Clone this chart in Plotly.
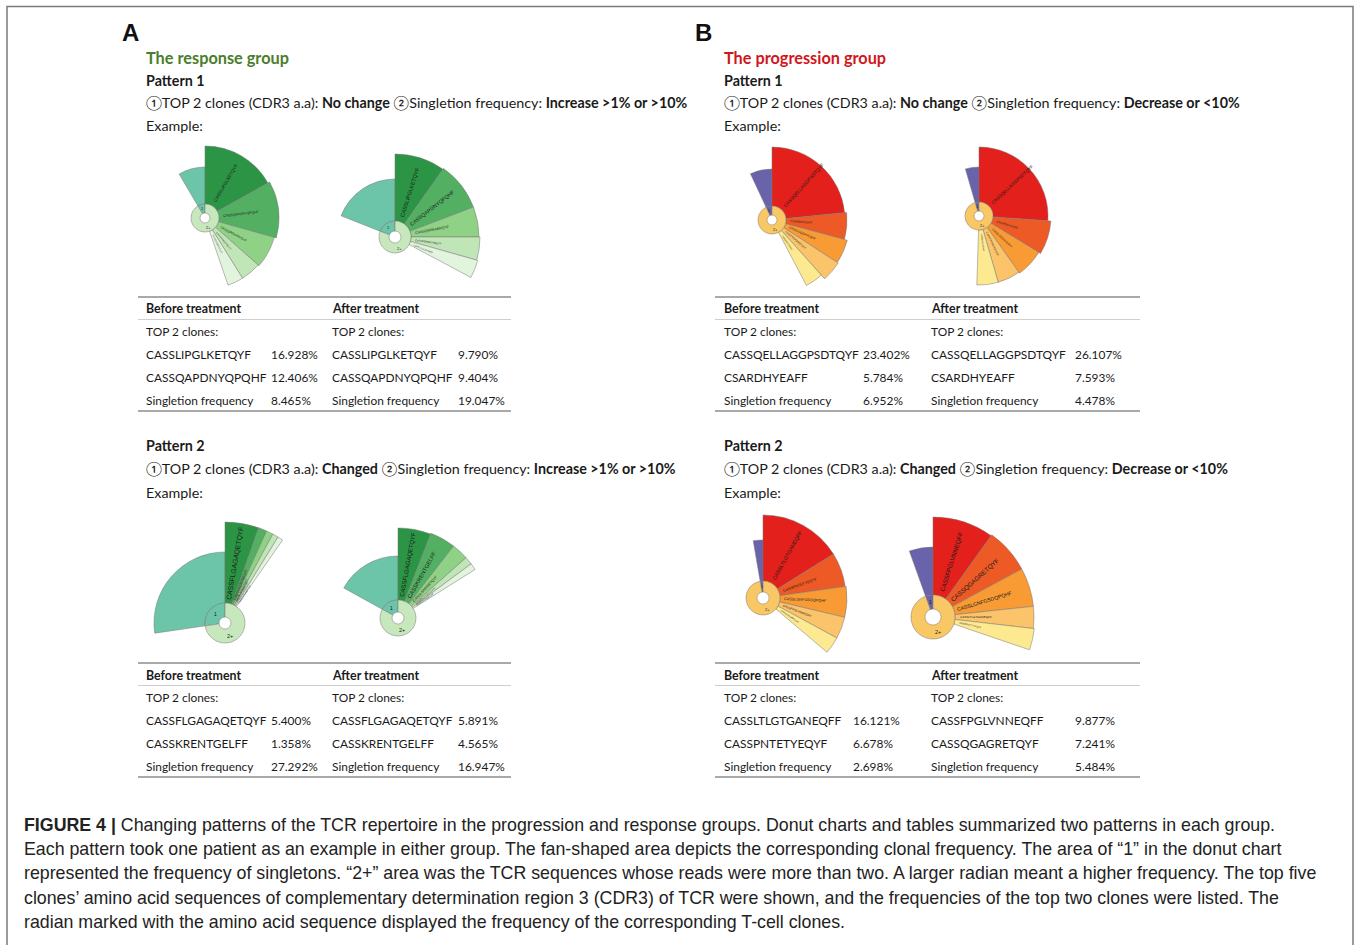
import numpy as np
import plotly.graph_objects as go

W, H = 1356, 945

# ---------------- data ----------------
# singleton frequency (%) for each example (before / after treatment)
singleton_freq = [8.465, 19.047, 6.952, 4.478, 27.292, 16.947, 2.698, 5.484]

# top five clones per example (%), top two as listed in the tables
clone_freq = [
    [16.928, 12.406, 7.2, 4.6, 3.6],
    [9.790, 9.404, 5.8, 4.4, 3.4],
    [23.402, 5.784, 5.0, 4.2, 3.9],
    [26.107, 7.593, 6.5, 5.3, 5.0],
    [5.400, 1.358, 1.1, 0.95, 0.85],
    [5.891, 4.565, 3.0, 1.4, 1.2],
    [16.121, 6.678, 5.9, 4.2, 3.3],
    [9.877, 7.241, 6.2, 3.5, 3.4],
]

clone_names = [
    ["CASSLIPGLKETQYF", "CASSQAPDNYQPQHF", "CASSQRGKANVQYF", "CASSPGRGDTGELFF", "CASSLGQGNTEAFF"],
    ["CASSLIPGLKETQYF", "CASSQAPDNYQPQHF", "CASSQRGKANVQYF", "CASSPGRGDTGELFF", "CASSLGQGNTEAFF"],
    ["CASSQELLAGGPSDTQYF", "CSARDHYEAFF", "CASSLGQGAYEQYF", "CASSPRDRGNQPQHF", "CASSLEGTEAFF"],
    ["CASSQELLAGGPSDTQYF", "CSARDHYEAFF", "CASSLGQGAYEQYF", "CASSPRDRGNQPQHF", "CASSLEGTEAFF"],
    ["CASSFLGAGAQETQYF", "CASSKRENTGELFF", "CASSLSRGGETQYF", "CASSPGTGNYGYTF", "CASSQDRGNSPLHF"],
    ["CASSFLGAGAQETQYF", "CASSKRENTGELFF", "CASSLSRGGETQYF", "CASSPGTGNYGYTF", "CASSQDRGNSPLHF"],
    ["CASSLTLGTGANEQFF", "CASSPNTETYEQYF", "CASSLGNFGSDQPQHF", "CASSFPGLVNNEQFF", "CASSQGAGRETQYF"],
    ["CASSFPGLVNNEQFF", "CASSQGAGRETQYF", "CASSLGNFGSDQPQHF", "CASSLTLGTGANEQFF", "CASSPNTETYEQYF"],
]

# radial extent of each sector
hole_radius = [5, 6, 5, 5, 6, 6, 6, 8]
ring_radius = [14, 16, 14, 14, 20, 18, 17, 22]
singleton_radius = [51, 58, 51, 49, 71, 62, 58, 70]
clone_radius = [
    [72, 74, 72, 71, 71],
    [83, 84, 84, 85, 86],
    [73, 75, 78, 79, 74],
    [69, 72, 70, 69, 69],
    [101, 101, 101, 101, 101],
    [90, 91, 91, 91, 91],
    [83, 83, 84, 84, 84],
    [100, 101, 101, 101, 102],
]

# table contents
table_rows = [
    dict(before=[("CASSLIPGLKETQYF", "16.928%"), ("CASSQAPDNYQPQHF", "12.406%"), ("Singletion frequency", "8.465%")],
         after=[("CASSLIPGLKETQYF", "9.790%"), ("CASSQAPDNYQPQHF", "9.404%"), ("Singletion frequency", "19.047%")]),
    dict(before=[("CASSQELLAGGPSDTQYF", "23.402%"), ("CSARDHYEAFF", "5.784%"), ("Singletion frequency", "6.952%")],
         after=[("CASSQELLAGGPSDTQYF", "26.107%"), ("CSARDHYEAFF", "7.593%"), ("Singletion frequency", "4.478%")]),
    dict(before=[("CASSFLGAGAQETQYF", "5.400%"), ("CASSKRENTGELFF", "1.358%"), ("Singletion frequency", "27.292%")],
         after=[("CASSFLGAGAQETQYF", "5.891%"), ("CASSKRENTGELFF", "4.565%"), ("Singletion frequency", "16.947%")]),
    dict(before=[("CASSLTLGTGANEQFF", "16.121%"), ("CASSPNTETYEQYF", "6.678%"), ("Singletion frequency", "2.698%")],
         after=[("CASSFPGLVNNEQFF", "9.877%"), ("CASSQGAGRETQYF", "7.241%"), ("Singletion frequency", "5.484%")]),
]

# ---------------- styling ----------------
GREEN = dict(clones=["#2b9545", "#53b062", "#8fd185", "#c0e5b6", "#e3f4de"],
             single="#6cc4a9", ring2="#c6e8bc")
RED = dict(clones=["#e3201b", "#ee5a26", "#f89b35", "#fcc46a", "#fde98f"],
           single="#6863ab", ring2="#f9c864")
palettes = [GREEN, GREEN, RED, RED, GREEN, GREEN, RED, RED]

# fan centres in pixels
centers = [(205, 218), (395, 237), (772, 220), (979, 216),
           (225, 623), (398, 618), (763, 598), (933, 617)]
label_sizes = [
    [4.5, 3.4, 3.0, 2.2, 2.2],
    [5.4, 5.2, 3.5, 2.6, 2.2],
    [4.7, 3.0, 3.0, 2.5, 2.2],
    [4.5, 3.0, 2.8, 2.5, 2.2],
    [6.8, 3.5, 2.6, 2.4, 2.2],
    [6.0, 5.6, 3.6, 2.6, 2.2],
    [5.2, 3.8, 3.8, 3.0, 2.2],
    [6.2, 6.3, 5.1, 3.0, 2.4],
]
HALF = 110.0      # half side of each polar domain, px
RMAX = 110.0      # radial axis range upper bound
SCALE = HALF / RMAX
EDGE = dict(color="rgba(120,120,120,0.85)", width=0.6)

BODY = "Lato, Carlito, Calibri, sans-serif"
CAPF = "Liberation Sans, Arial, Helvetica, sans-serif"
TABLE_FS = 11.9
HEAD_FS = 14.3

fig = go.Figure()
annotations = []
layout_polars = {}


def px_to_paper(px, py):
    return px / W, 1 - py / H


def radial_label(cx, cy, theta, r, text, size, color="#1a1a1a", upright=False):
    t = np.radians(theta)
    x, y = px_to_paper(cx + r * SCALE * np.sin(t), cy - r * SCALE * np.cos(t))
    annotations.append(dict(x=x, y=y, xref="paper", yref="paper", text=text, showarrow=False,
                            textangle=0 if upright else theta - 90,
                            xanchor="center", yanchor="middle",
                            font=dict(size=size, family="Arial", color=color)))


for i in range(8):
    key = "polar" if i == 0 else f"polar{i + 1}"
    cx, cy = centers[i]
    x0, y1 = px_to_paper(cx - HALF, cy - HALF)
    x1, y0 = px_to_paper(cx + HALF, cy + HALF)
    layout_polars[key] = dict(
        domain=dict(x=[x0, x1], y=[y0, y1]),
        bgcolor="rgba(0,0,0,0)",
        radialaxis=dict(visible=False, range=[0, RMAX]),
        angularaxis=dict(visible=False, direction="clockwise", rotation=90, thetaunit="degrees"),
    )
    pal = palettes[i]
    s_deg = singleton_freq[i] * 3.6
    ring = ring_radius[i]
    hole = hole_radius[i]

    # singleton sector (counter-clockwise of 12 o'clock)
    fig.add_trace(go.Barpolar(
        subplot=key, theta=[-s_deg / 2], width=[s_deg], base=[ring],
        r=[singleton_radius[i] - ring], marker=dict(color=pal["single"], line=EDGE),
        showlegend=False, hoverinfo="skip"))

    # top five clones (clockwise)
    widths = np.array(clone_freq[i]) * 3.6
    starts = np.concatenate([[0], np.cumsum(widths)[:-1]])
    mids = starts + widths / 2
    fig.add_trace(go.Barpolar(
        subplot=key, theta=list(mids), width=list(widths), base=[ring] * 5,
        r=[rr - ring for rr in clone_radius[i]],
        marker=dict(color=pal["clones"], line=EDGE),
        showlegend=False, hoverinfo="skip"))

    # inner donut: "1" singletons and "2+"
    rest = 360 - s_deg
    fig.add_trace(go.Barpolar(
        subplot=key, theta=[-s_deg / 2, rest / 2], width=[s_deg, rest], base=[hole, hole],
        r=[ring - hole, ring - hole],
        marker=dict(color=[pal["single"], pal["ring2"]], line=EDGE),
        showlegend=False, hoverinfo="skip"))

    # sector labels laid along the radius
    for k in range(5):
        name = clone_names[i][k]
        fs = label_sizes[i][k]
        length = 0.66 * fs * len(name)
        radial_label(cx, cy, mids[k], ring + 5 + length / 2, name, fs)
    small = ring < 18
    radial_label(cx, cy, -s_deg / 2, (hole + ring) / 2, "1", 4 if small else 5, upright=True)
    radial_label(cx, cy, 160, (hole + ring) / 2 + 1, "2+", 4 if small else 5.5, upright=True)


def text(px, py, s, size, color="#1a1a1a", family=BODY, anchor="left"):
    x, y = px_to_paper(px, py)
    annotations.append(dict(x=x, y=y, xref="paper", yref="paper", text=s, showarrow=False,
                            xanchor=anchor, yanchor="middle",
                            font=dict(size=size, family=family, color=color)))


shapes = []


def hline(x0, x1, py, color, width):
    shapes.append(dict(type="line", xref="paper", yref="paper",
                       x0=x0 / W, x1=x1 / W, y0=1 - py / H, y1=1 - py / H,
                       line=dict(color=color, width=width)))


# outer frame
shapes.append(dict(type="rect", xref="paper", yref="paper", x0=7 / W, x1=1353 / W,
                   y0=-0.01, y1=1 - 6.5 / H, line=dict(color="#7a7a7a", width=1.5)))

# panel letters and headings
text(120, 33, "<b>A</b>", 24, "#111", "Arial")
text(693, 33, "<b>B</b>", 24, "#111", "Arial")
text(144, 57, "<b>The response group</b>", 16.3, "#4a7d2c")
text(722, 57, "<b>The progression group</b>", 16.3, "#d0161b")

crit = {
    ("A", 1): "①TOP 2 clones (CDR3 a.a): <b>No change</b> ②Singletion frequency: <b>Increase >1% or >10%</b>",
    ("A", 2): "①TOP 2 clones (CDR3 a.a): <b>Changed</b> ②Singletion frequency: <b>Increase >1% or >10%</b>",
    ("B", 1): "①TOP 2 clones (CDR3 a.a): <b>No change</b> ②Singletion frequency: <b>Decrease or <10%</b>",
    ("B", 2): "①TOP 2 clones (CDR3 a.a): <b>Changed</b> ②Singletion frequency: <b>Decrease or <10%</b>",
}
for grp, gx in (("A", 144), ("B", 722)):
    for pat, py in ((1, 0), (2, 366)):
        text(gx, 80 + py, f"<b>Pattern {pat}</b>", HEAD_FS)
        text(gx, 103 + py, crit[(grp, pat)], HEAD_FS)
        text(gx, 126 + py, "Example:", HEAD_FS)

# tables
table_geo = [
    dict(x0=138, x1=511, top=297, names=(144, 330), vals=(269, 456)),
    dict(x0=715, x1=1140, top=297, names=(722, 929), vals=(861, 1073)),
    dict(x0=138, x1=511, top=663, names=(144, 330), vals=(269, 456)),
    dict(x0=715, x1=1140, top=663, names=(722, 929), vals=(851, 1073)),
]
for tg, rows in zip(table_geo, table_rows):
    t = tg["top"]
    hline(tg["x0"], tg["x1"], t, "#a9a9a9", 2)
    hline(tg["x0"], tg["x1"], t + 22.5, "#cfcfcf", 1)
    hline(tg["x0"], tg["x1"], t + 114, "#a9a9a9", 2)
    for side, label in ((0, "Before treatment"), (1, "After treatment")):
        nx, vx = tg["names"][side], tg["vals"][side]
        text(nx, t + 12, f"<b>{label}</b>", 12.4)
        text(nx, t + 34.5, "TOP 2 clones:", TABLE_FS)
        entries = rows["before"] if side == 0 else rows["after"]
        for j, (nm, val) in enumerate(entries):
            yy = t + 57.5 + 23 * j
            text(nx, yy, nm, TABLE_FS)
            text(vx, yy, val, TABLE_FS)

# caption
caption = [
    "<b>FIGURE 4 |</b> Changing patterns of the TCR repertoire in the progression and response groups. Donut charts and tables summarized two patterns in each group.",
    "Each pattern took one patient as an example in either group. The fan-shaped area depicts the corresponding clonal frequency. The area of “1” in the donut chart",
    "represented the frequency of singletons. “2+” area was the TCR sequences whose reads were more than two. A larger radian meant a higher frequency. The top five",
    "clones’ amino acid sequences of complementary determination region 3 (CDR3) of TCR were shown, and the frequencies of the top two clones were listed. The",
    "radian marked with the amino acid sequence displayed the frequency of the corresponding T-cell clones.",
]
for j, line in enumerate(caption):
    text(22, 825 + 24.2 * j, line, 17.8, "#222", CAPF)

fig.update_layout(
    width=W, height=H, margin=dict(l=0, r=0, t=0, b=0),
    paper_bgcolor="white", plot_bgcolor="white",
    showlegend=False, annotations=annotations, shapes=shapes,
    **layout_polars,
)

fig.write_html("out.html")
